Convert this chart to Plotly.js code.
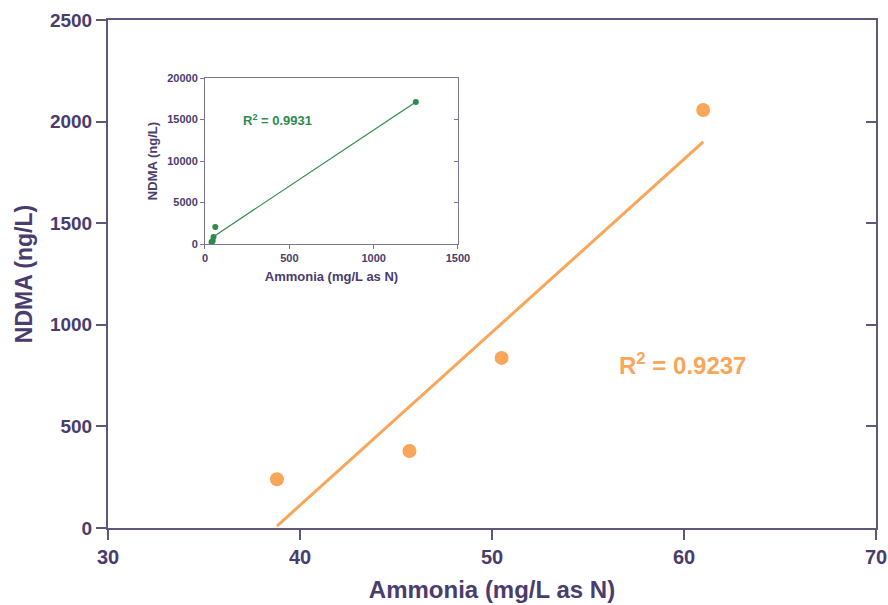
<!DOCTYPE html>
<html>
<head>
<meta charset="utf-8">
<script src="https://cdn.plot.ly/plotly-3.0.1.min.js"></script>
<style>html,body{margin:0;padding:0;background:#fff;}#chart{width:888px;height:605px;}</style>
</head>
<body>
<div id="chart"></div>
<script>
// Main chart data
var ammonia = [38.8, 45.7, 50.5, 61.0];
var ndma = [240, 379, 837, 2057];
var mainR2Label = 'R<sup>2</sup> = 0.9237';

// Inset data (same points plus the high sample)
var insetAmmonia = [38.8, 45.7, 50.5, 61.0, 1250];
var insetNdma = [240, 379, 837, 2057, 17100];
var insetR2Label = 'R<sup>2</sup> = 0.9931';

var xTicks = [30, 40, 50, 60, 70];
var yTicks = [0, 500, 1000, 1500, 2000, 2500];
var insetXTicks = [0, 500, 1000, 1500];
var insetYTicks = [0, 5000, 10000, 15000, 20000];

function fit(xs, ys) {
  var n = xs.length, mx = 0, my = 0;
  for (var i = 0; i < n; i++) { mx += xs[i]; my += ys[i]; }
  mx /= n; my /= n;
  var sxy = 0, sxx = 0;
  for (var j = 0; j < n; j++) { sxy += (xs[j]-mx)*(ys[j]-my); sxx += (xs[j]-mx)*(xs[j]-mx); }
  var b = sxy / sxx, a = my - b * mx;
  var x0 = Math.min.apply(null, xs), x1 = Math.max.apply(null, xs);
  return {x: [x0, x1], y: [a + b*x0, a + b*x1]};
}
var mainFit = fit(ammonia, ndma);
var insetFit = fit(insetAmmonia, insetNdma);

var purple = '#4a3c6c';
var axisCol = '#5f5679';
var orange = '#f7a65a';
var green = '#2f8a4c';
var FF = '"Liberation Sans", Arial, sans-serif';

var traces = [
  {x: mainFit.x, y: mainFit.y, mode: 'lines', line: {color: orange, width: 3}, xaxis: 'x', yaxis: 'y', hoverinfo: 'skip'},
  {x: ammonia, y: ndma, mode: 'markers', marker: {color: orange, size: 14}, xaxis: 'x', yaxis: 'y'},
  {x: [ammonia[0]], y: [ndma[0]], mode: 'markers', marker: {opacity: 0}, xaxis: 'x', yaxis: 'y3', hoverinfo: 'skip'},
  {x: insetFit.x, y: insetFit.y, mode: 'lines', line: {color: green, width: 1.2}, xaxis: 'x2', yaxis: 'y2', hoverinfo: 'skip'},
  {x: insetAmmonia, y: insetNdma, mode: 'markers', marker: {color: green, size: 6}, xaxis: 'x2', yaxis: 'y2'},
  {x: [insetAmmonia[0]], y: [insetNdma[0]], mode: 'markers', marker: {opacity: 0}, xaxis: 'x2', yaxis: 'y4', hoverinfo: 'skip'}
];

var layout = {
  width: 888, height: 605,
  margin: {l: 108, r: 12, t: 20, b: 77},
  paper_bgcolor: '#ffffff', plot_bgcolor: '#ffffff',
  showlegend: false,
  font: {family: FF, color: purple},
  xaxis: {
    domain: [0, 1], anchor: 'y', range: [30, 70], tickvals: xTicks, ticktext: xTicks.map(String),
    showline: true, linecolor: axisCol, linewidth: 2, mirror: true,
    ticks: 'outside', ticklen: 10, tickwidth: 2, tickcolor: axisCol,
    showgrid: false, zeroline: false,
    tickfont: {family: FF, size: 20, weight: 'bold', color: purple},
    title: {text: 'Ammonia (mg/L as N)', standoff: 14, font: {family: FF, size: 24, weight: 'bold', color: purple}}
  },
  yaxis: {
    domain: [0, 1], anchor: 'x', range: [0, 2500], tickvals: yTicks, ticktext: yTicks.map(String),
    showline: true, linecolor: axisCol, linewidth: 2, mirror: true,
    ticks: 'outside', ticklen: 10, tickwidth: 2, tickcolor: axisCol,
    showgrid: false, zeroline: false,
    tickfont: {family: FF, size: 19, weight: 'bold', color: purple},
    title: {text: 'NDMA (ng/L)', standoff: 11, font: {family: FF, size: 23, weight: 'bold', color: purple}}
  },
  yaxis3: {
    overlaying: 'y', side: 'right', anchor: 'x', range: [0, 2500], tickvals: yTicks,
    showticklabels: false, showline: false, ticks: 'inside', ticklen: 10, tickwidth: 2, tickcolor: axisCol,
    showgrid: false, zeroline: false
  },
  xaxis2: {
    domain: [0.1263, 0.4557], anchor: 'y2', range: [0, 1500], tickvals: insetXTicks, ticktext: insetXTicks.map(String),
    showline: true, linecolor: '#7d7596', linewidth: 1, mirror: true,
    ticks: 'outside', ticklen: 4, tickwidth: 1, tickcolor: '#7d7596',
    showgrid: false, zeroline: false,
    tickfont: {family: FF, size: 11, weight: 'bold', color: purple},
    title: {text: 'Ammonia (mg/L as N)', standoff: 8, font: {family: FF, size: 13, weight: 'bold', color: purple}}
  },
  yaxis2: {
    domain: [0.559, 0.8858], anchor: 'x2', range: [0, 20000], tickvals: insetYTicks, ticktext: insetYTicks.map(String),
    showline: true, linecolor: '#7d7596', linewidth: 1, mirror: true,
    ticks: 'outside', ticklen: 4, tickwidth: 1, tickcolor: '#7d7596',
    showgrid: false, zeroline: false,
    tickfont: {family: FF, size: 11, weight: 'bold', color: purple},
    title: {text: 'NDMA (ng/L)', standoff: 6, font: {family: FF, size: 13, weight: 'bold', color: purple}}
  },
  yaxis4: {
    overlaying: 'y2', side: 'right', anchor: 'x2', range: [0, 20000], tickvals: insetYTicks,
    showticklabels: false, showline: false, ticks: 'inside', ticklen: 4, tickwidth: 1, tickcolor: '#7d7596',
    showgrid: false, zeroline: false
  },
  annotations: [
    {x: 59.93, y: 807, xref: 'x', yref: 'y', text: mainR2Label, showarrow: false,
     font: {family: FF, size: 24, weight: 'bold', color: orange}},
    {x: 430, y: 14900, xref: 'x2', yref: 'y2', text: insetR2Label, showarrow: false,
     font: {family: FF, size: 13, weight: 'bold', color: green}}
  ]
};

Plotly.newPlot('chart', traces, layout, {staticPlot: true, displayModeBar: false});
</script>
</body>
</html>
